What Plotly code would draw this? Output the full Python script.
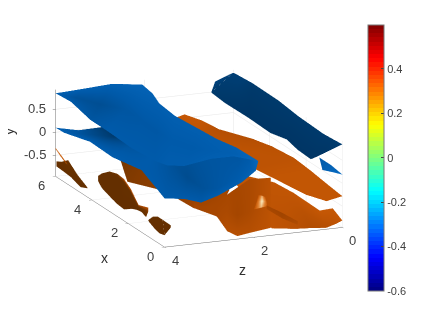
import plotly.graph_objects as go

# ---- axis ticks ----
x_ticks = [0, 2, 4, 6]
z_ticks = [0, 2, 4]
y_ticks = [-0.5, 0, 0.5]
cbar_ticks = [-0.6, -0.4, -0.2, 0, 0.2, 0.4]
cbar_range = [-0.6, 0.598]
x_range = [0, 6]
z_range = [0, 4]
y_range = [-.96, .93]

# ---- upper blue sheet ----
a_x = [[6, 5.15, 4.09, 3.19, 1.81, .53, 0, 0, 0, 0, 0],
       [6, 5.6, 5.0, 4.6, 3.8, 3, 2.3, 1.6, 1.1, .6, 0],
       [6, 6, 6, 6, 5.8, 5.43, 4.58, 3.31, 2.25, 1.19, 0]]
a_z = [[4, 4, 4, 4, 4, 4, 3.93, 3.55, 2.95, 2.45, 1.89],
       [4, 3.7, 3.4, 3, 2.95, 2.95, 2.9, 2.7, 2.4, 2.15, 1.89],
       [4, 3.41, 2.73, 2.05, 1.9, 1.9, 1.9, 1.9, 1.9, 1.9, 1.89]]
a_y = [[.85, .88, .76, .76, .73, .78, .81, .76, .85, .85, .69],
       [.85, .82, .8, .75, .7, .68, .65, .65, .68, .72, .69],
       [.85, .88, .92, .83, .67, .55, .5, .55, .59, .68, .69]]
a_s = [[.6, .55, .5, .55, .55, .55, .58, .58, .6, .62, .7],
       [.6, .45, .42, .5, .52, .52, .55, .55, .58, .6, .7],
       [.62, .6, .62, .65, .62, .6, .6, .6, .6, .62, .7]]

# ---- lower blue sheet ----
b_x = [[6, 5.52, 4.1, 2.87, 1.27, 0, 0, 0, 0, 0, 0, 0],
       [6, 5.6, 4.8, 4, 3, 2, 1.2, .6, .3, .2, .1, 0],
       [6, 6, 6, 6, 6, 5, 4, 3, 2, 1, .5, 0]]
b_z = [[4, 4, 4, 4, 4, 4, 3.55, 3.18, 2.8, 2.27, 1.95, 1.89],
       [4, 3.7, 3.14, 3, 3, 3, 3, 2.9, 2.7, 2.3, 2, 1.89],
       [4, 3.48, 3, 2.5, 2, 1.9, 1.9, 1.9, 1.9, 1.9, 1.9, 1.89]]
b_y = [[.10, .11, .28, .26, .39, .10, .04, -.08, .03, .26, .48, .69],
       [.1, .05, .12, .2, .22, .25, .15, .05, .1, .3, .5, .69],
       [.1, -.01, 0, .05, .1, .15, .2, .3, .4, .55, .6, .69]]
b_s = [[.65, .6, .58, .58, .55, .55, .55, .55, .58, .6, .65, .7],
       [.6, .5, .2, .45, .55, .45, .4, .45, .5, .55, .6, .7],
       [.6, .5, .25, .3, .4, .5, .5, .5, .5, .5, .55, .7]]

# ---- dark back sheet and strip under it ----
c_x = [[6, 6, 5, 3.7, 2.5, 1.6, 1, .27, 0, 0],
       [6, 6, 5.5, 4.94, 3.5, 2.44, 1.5, 1.06, .5, 0]]
c_z = [[.41, .5, .6, .6, .6, .6, .6, .6, .52, 0],
       [0, 0, 0, 0, 0, 0, 0, 0, 0, 0]]
c_y = [[.72, .49, .53, .54, .52, .61, .54, .52, .66, .85],
       [.87, .87, .89, .91, .9, .84, .82, .81, .83, .85]]
c_s = [[.3, .2, .17, .15, .15, .15, .15, .15, .15, .2],
       [.25, .25, .25, .2, .2, .2, .2, .2, .2, .25]]

strip_x = [[0, 0, 0], [0, 0, 0]]
strip_z = [[.52, .25, 0], [.45, .2, 0]]
strip_y = [[.62, .42, .19], [.34, .26, .19]]
strip_s = [[.55, .62, .7], [.6, .7, .75]]

# ---- orange upper sheet ----
d_x = [[6, 5, 4, 3, 2, 1, 0, 0, 0, 0],
       [6, 6, 6, 4.94, 3.88, 2.66, 1.75, .85, 0, 0]]
d_z = [[1.4, 1.5, 1.6, 1.6, 1.6, 1.6, 1.59, .82, .36, 0],
       [1.1, .7, .32, 0, 0, 0, 0, 0, 0, 0]]
d_y = [[0, 0, .1, .15, .2, .25, .3, -.16, -.35, -.28],
       [.08, -.1, -.33, -.3, -.19, -.13, -.17, -.23, -.28, -.28]]
d_s = [[.7, .7, .7, .7, .7, .68, .72, .72, .72, .72],
       [.75, .72, .62, .62, .66, .68, .72, .72, .72, .72]]

# ---- orange lower sheet ----
e_x = [[0, 0, 0, 0, 0, 0],
       [0, .53, .54, 2.03, 2.94, 3.5]]
e_z = [[0, .15, .36, .7, 1.05, 1.59],
       [0, 0, .29, .27, .33, 1.2]]
e_y = [[-.81, -.87, -.93, -.9, -.88, -.81],
       [-.81, -.68, -.7, -.7, -.7, -.5]]
e_s = [[.72, .68, .62, .6, .65, .7],
       [.75, .75, .75, .72, .72, .7]]

# ---- dark orange wall at the front ----
w_x = [[.05] * 7, [.05] * 7, [.05] * 7]
w_z = [[3.32, 3.18, 2.8, 2.57, 2.34, 2.07, 1.59]] * 3
w_y = [[-.05, -.15, -.05, .02, .15, .3, .28],
       [-.12, -.18, -.22, -.35, -.45, -.4, -.4],
       [-.2, -.23, -.44, -.78, -.91, -.87, -.81]]
w_s = [[.48, .48, .5, .52, .52, .55, .66],
       [.5, .5, .52, .55, .5, .55, .68],
       [.5, .5, .52, .62, .64, .62, .68]]

# ---- glint in the hollow ----
g_x = [[.02, .02, .02], [.02, .02, .02], [.02, .02, .02]]
g_z = [[1.88, 1.8, 1.72], [1.92, 1.8, 1.7], [1.98, 1.82, 1.68]]
g_y = [[-.06, -.08, -.12], [-.2, -.2, -.22], [-.36, -.34, -.32]]
g_s = [[.72, .9, .72], [.75, 1, .78], [.72, .92, .75]]

# ---- dark crease on the lower sheet ----
k_x = [[.01, .01, .01], [.01, .01, .01]]
k_z = [[1.7, 1.35, 1.0], [1.7, 1.35, 1.0]]
k_y = [[-.3, -.5, -.72], [-.38, -.62, -.8]]
k_s = [[.5, .48, .55], [.55, .5, .6]]

# ---- brown mass below the lower blue sheet ----
m_x = [[4.08, 2.51, 1.76, .83, .1, .1],
       [4.5, 3.5, 2.5, 1.5, .5, .1]]
m_z = [[3.32, 3.81, 3.47, 3.35, 3.32, 2.8],
       [2.5, 2.5, 2.5, 2.5, 2.5, 2.5]]
m_y = [[-.2, -.2, -.2, -.2, -.2, -.44],
       [.1, .1, .1, .1, .1, .1]]
m_s = [[.3, .35, .4, .42, .48, .5],
       [.35, .4, .45, .5, .5, .5]]

# ---- brown pieces on the z = 4 face ----
f0_x = [[6, 5.7, 5.35], [6, 5.7, 5.35]]
f0_z = [[4, 4, 4], [4, 4, 4]]
f0_y = [[-.34, -.42, -.52], [-.36, -.46, -.55]]
f0_s = [[.75, .75, .7], [.75, .75, .7]]

f1_x = [[5.95, 5.68, 5.31, 4.78, 4.25], [5.95, 5.6, 5.15, 4.62, 4.25]]
f1_z = [[4] * 5, [4] * 5]
f1_y = [[-.62, -.56, -.43, -.62, -.75], [-.73, -.74, -.76, -.84, -.77]]
f1_s = [[.22, .22, .25, .22, .22], [.2, .2, .2, .2, .2]]

f2_x = [[3.66, 3.45, 3.03, 2.6, 2.23, 1.86, 1.59, 1.43, .9, 1.01],
        [3.66, 3.45, 3.03, 2.6, 2.23, 1.86, 1.59, 1.43, .9, 1.01],
        [3.66, 3.45, 3.03, 2.6, 2.23, 1.81, 1.54, 1.27, 1.06, 1.01]]
f2_z = [[4] * 10, [4] * 10, [4] * 10]
f2_y = [[-.35, -.24, -.09, -.03, -.05, -.17, -.32, -.41, -.33, -.56],
        [-.37, -.3, -.16, -.1, -.12, -.24, -.38, -.45, -.42, -.56],
        [-.46, -.56, -.63, -.69, -.71, -.59, -.54, -.52, -.56, -.56]]
f2_s = [[.2, .2, .22, .3, .6, .68, .62, .55, .62, .4],
        [.2, .2, .2, .2, .22, .22, .24, .25, .3, .3],
        [.2, .2, .2, .2, .2, .2, .2, .22, .25, .3]]

f3_x = [[.9, .64, .37, .1, 0], [.85, .53, .27, 0, 0]]
f3_z = [[4, 4, 4, 4, 3.86], [4, 4, 4, 4, 3.86]]
f3_y = [[-.6, -.46, -.39, -.39, -.5], [-.63, -.7, -.73, -.7, -.55]]
f3_s = [[.22, .22, .22, .22, .22], [.2, .2, .2, .2, .2]]

# ---- colours ----
blue_scale = [[0, "rgb(0,38,78)"], [.2, "rgb(0,58,108)"], [.55, "rgb(0,90,170)"],
              [.75, "rgb(8,108,195)"], [1, "rgb(30,130,220)"]]
orange_scale = [[0, "rgb(80,35,0)"], [.25, "rgb(105,50,0)"], [.5, "rgb(165,70,0)"],
                [.75, "rgb(198,88,5)"], [.85, "rgb(225,130,50)"], [1, "rgb(250,238,195)"]]


def jet(t):
    f = lambda v: int(255 * max(0, min(1, 1.5 - abs(4 * t - v))))
    return f"rgb({f(3)},{f(2)},{f(1)})"


jet_scale = []
for i in range(64):
    jet_scale += [[i / 64, jet((i + .5) / 64)], [(i + 1) / 64, jet((i + .5) / 64)]]

FLAT = dict(ambient=1, diffuse=0, specular=0, fresnel=0, roughness=1)


def sheet(x, z, y, s, scale):
    return go.Surface(x=x, y=z, z=y, surfacecolor=s, colorscale=scale, cmin=0, cmax=1,
                      showscale=False, lighting=FLAT, hoverinfo="skip")


fig = go.Figure()
for args in [(a_x, a_z, a_y, a_s, blue_scale), (b_x, b_z, b_y, b_s, blue_scale),
             (c_x, c_z, c_y, c_s, blue_scale), (strip_x, strip_z, strip_y, strip_s, blue_scale),
             (d_x, d_z, d_y, d_s, orange_scale), (e_x, e_z, e_y, e_s, orange_scale),
             (w_x, w_z, w_y, w_s, orange_scale), (g_x, g_z, g_y, g_s, orange_scale),
             (k_x, k_z, k_y, k_s, orange_scale),
             (m_x, m_z, m_y, m_s, orange_scale), (f0_x, f0_z, f0_y, f0_s, orange_scale),
             (f1_x, f1_z, f1_y, f1_s, orange_scale), (f2_x, f2_z, f2_y, f2_s, orange_scale),
             (f3_x, f3_z, f3_y, f3_s, orange_scale)]:
    fig.add_trace(sheet(*args))

fig.add_trace(go.Scatter3d(
    x=[3, 3], y=[2, 2], z=[0, 0], mode="markers", hoverinfo="skip", opacity=0,
    marker=dict(size=1, color=cbar_range, colorscale=jet_scale, cmin=cbar_range[0], cmax=cbar_range[1],
                showscale=True,
                colorbar=dict(tickmode="array", tickvals=cbar_ticks,
                              ticktext=["-0.6", "-0.4", "-0.2", "0", "0.2", "0.4"],
                              thicknessmode="pixels", thickness=16, lenmode="pixels", len=266,
                              x=360 / 436, xanchor="left", xpad=0, y=1 - 17 / 327, yanchor="top", ypad=0,
                              outlinecolor="#777", outlinewidth=1, ticks="inside", ticklen=3,
                              tickcolor="#444", tickfont=dict(size=11, color="#404040",
                                                              family="Liberation Sans")))))

tick_font = dict(size=13, color="#404040", family="Liberation Sans")
title_font = dict(size=14, color="#303030", family="Liberation Sans")
axis_style = dict(showbackground=False, showgrid=True, gridcolor="#e6e6e6", gridwidth=1,
                  showline=True, linecolor="#707070", linewidth=1, zeroline=False,
                  ticks="outside", ticklen=3, tickcolor="#707070", showticklabels=False,
                  showspikes=False, tickmode="array")


def axis_label(text, px, py, angle=0):
    # the page body adds 8 px before the figure starts
    return dict(text=text, xref="paper", yref="paper", x=(px - 8) / 436, y=1 - (py - 8) / 327, showarrow=False,
                textangle=angle, xanchor="center", yanchor="middle", font=title_font)


def tick_label(v, x, z, y, dx, dy, anchor="center"):
    return dict(x=x, y=z, z=y, text=f"{v:g}", showarrow=False, xshift=dx, yshift=dy,
                xanchor=anchor, yanchor="middle", font=tick_font)


scene_notes = ([tick_label(v, v, z_range[1], y_range[0], -14, -9) for v in x_ticks]
               + [tick_label(v, x_range[0], v, y_range[0], 11, -13) for v in z_ticks]
               + [tick_label(v, x_range[1], z_range[1], v, -8, 1, "right") for v in y_ticks])

fig.update_layout(
    width=436, height=327, margin=dict(l=0, r=0, t=0, b=0), paper_bgcolor="white",
    showlegend=False, font=dict(family="Liberation Sans"),
    annotations=[axis_label("x", 104, 258), axis_label("z", 242, 270), axis_label("y", 9, 132, -90)],
    scene=dict(
        domain=dict(x=[0, .875], y=[.121, .957]),
        xaxis=dict(range=x_range, tickvals=x_ticks, title=dict(text=""), **axis_style),
        yaxis=dict(range=z_range, tickvals=z_ticks, title=dict(text=""), **axis_style),
        zaxis=dict(range=y_range, tickvals=y_ticks, title=dict(text=""), **axis_style),
        aspectmode="manual", aspectratio=dict(x=2.09, y=1.41, z=.66),
        camera=dict(projection=dict(type="orthographic"), up=dict(x=0, y=0, z=1),
                    center=dict(x=0, y=0, z=0), eye=dict(x=-3.58, y=1.48, z=1.08)),
        annotations=scene_notes,
    ),
)
fig.write_html("out.html")
